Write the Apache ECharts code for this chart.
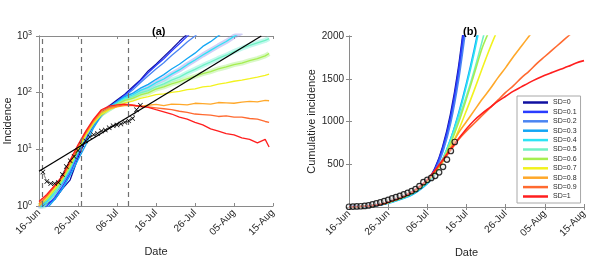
<!DOCTYPE html>
<html><head><meta charset="utf-8">
<script src="https://cdn.jsdelivr.net/npm/echarts@6/dist/echarts.min.js"></script>
<style>html,body{margin:0;padding:0;background:#fff}#c{width:598px;height:276px}</style>
</head><body><div id="c"></div>
<script>
// ---------- data ----------
const tickLabels = ['16-Jun','26-Jun','06-Jul','16-Jul','26-Jul','05-Aug','15-Aug'];
const sdNames = ['SD=0','SD=0.1','SD=0.2','SD=0.3','SD=0.4','SD=0.5','SD=0.6','SD=0.7','SD=0.8','SD=0.9','SD=1'];
const sdColors = ['#1010a0','#2a3cff','#4a84f2','#12a6f5','#2ce4f5','#70f2c4','#a6ee50','#f2f21e','#ffa82a','#ff6a30','#ff1e1e'];

// panel (a): simulated daily incidence (days since 16-Jun)
const daysA = [0,2,4,6,8,10,12,14,16,18,20,22,24,26,28,30,32,34,36,38,40,42,44,46,48,50,52,54,56,58,59];
const incSD0  = [0.9,1.1,1.3,2.0,2.9,7,15,27,44,58,74,94,126,168,242,318,432,586,805,1080,1450];
const incSD01 = [0.8,1.0,1.4,2.2,3.8,8,16,28,42,56,70,91,119,162,224,302,398,545,728,985,1310];
const incSD02 = [1.0,1.2,1.6,2.5,4.2,8.5,16,27,40,53,67,87,111,150,198,262,338,452,588,785,1000,1320];
const incSD03 = [0.7,0.9,1.3,2.0,3.5,6.5,12,24,40,55,69,85,97,120,140,172,208,262,318,402,498,655,795,1010,1250];
const incSD04 = [0.9,1.2,1.7,2.6,4.5,9,17,28,43,55,67,81,91,110,124,150,174,212,252,312,378,462,558,672,798,985,1160];
const incSD05 = [0.8,1.1,1.6,2.8,4.8,9.5,17,29,42,52,63,77,85,99,109,127,143,167,188,223,258,302,348,402,458,532,608,682,758,838,900];
const incSD06 = [1.0,1.3,1.9,2.9,5,10,18,29,42,51,62,73,79,91,99,116,127,143,157,176,194,216,236,262,284,312,333,367,398,446,490];
const incSD07 = [1.1,1.4,2.0,3.1,5.5,10,18,29,41,50,57,66,71,79,85,92,95,101,105,113,117,126,131,141,149,159,167,177,188,201,212];
const incSD08 = [1.0,1.5,2.2,3.3,6,11,19,31,45,52,56,59,60,57,60,62,59,63,62,61,65,64,63,67,66,65,68,70,69,73,72];
const incSD09 = [1.1,1.5,2.2,3.2,5.8,11,20,32,48,55,58,61,60,57,56,54,52,50,47,45,42,41,40,38,39,37,37,35,34,31,30];
const incSD1  = [1.2,1.6,2.3,3.4,6.5,12,21,34,50,58,61,63,60,58,55,50,46,42,37,34,30,27,23,21,19,18,16,15,13,15,11];
const incAll = [incSD0,incSD01,incSD02,incSD03,incSD04,incSD05,incSD06,incSD07,incSD08,incSD09,incSD1];

// exponential fit line and observed incidence
const fitDays = [0, 57];
const fitVals = [4.1, 1000];
const obsDaysA = [1,2,3,4,5,6,7,8,9,10,11,12,13,14,15,16,17,18,19,20,21,22,23,24,25,26];
const obsIncidence = [4.0,2.7,2.5,2.5,2.6,3.6,5.0,6.3,7.5,9.5,12,14,16.5,18,19,21,22,24,26,27,28,30,32,35,50,60];
const vlineDays = [0.75, 10.8, 22.9];

// panel (b): cumulative incidence
const daysB = [0,2,4,6,8,10,12,14,16,18,20,22,24,26,28,30,32,34,36,38,40,42,44,46,48,50,52,54,56,58,60];
const cumSD0  = [1,3,8,16,29,52,84,118,162,225,300,450,705,1085,1620,2350];
const cumSD01 = [1,3,8,16,30,54,86,120,164,226,298,440,685,1050,1580,2300];
const cumSD02 = [1,3,7,15,28,50,80,112,154,214,285,420,650,990,1490,2150];
const cumSD03 = [1,2,6,13,25,45,72,102,140,198,272,385,560,800,1100,1450,1850,2300];
const cumSD04 = [1,2,6,14,26,47,75,106,145,204,280,395,570,800,1080,1420,1810,2250];
const cumSD05 = [1,3,7,15,28,50,80,114,156,218,295,405,565,770,1030,1300,1600,1940,2300];
const cumSD06 = [1,3,7,16,29,52,83,117,160,222,300,410,555,750,990,1270,1560,1860,2080];
const cumSD07 = [1,3,8,16,30,53,85,120,164,226,302,400,530,700,900,1130,1370,1620,1860,2080];
const cumSD08 = [1,3,8,17,31,55,88,123,168,232,310,420,545,700,870,1000,1130,1260,1380,1510,1630,1760,1880,2000,2120];
const cumSD09 = [1,3,8,17,31,55,88,124,170,235,315,425,540,665,790,890,980,1070,1160,1250,1340,1420,1510,1590,1680,1760,1840,1920,2000,2080];
const cumSD1  = [1,3,8,17,31,56,89,125,172,238,318,432,555,680,800,915,1015,1095,1165,1235,1295,1355,1405,1455,1500,1540,1575,1610,1645,1685,1712];
const cumAll = [cumSD0,cumSD01,cumSD02,cumSD03,cumSD04,cumSD05,cumSD06,cumSD07,cumSD08,cumSD09,cumSD1];

const obsDaysB = [0,1,2,3,4,5,6,7,8,9,10,11,12,13,14,15,16,17,18,19,20,21,22,23,24,25,26,27];
const obsCum = [3,5,7,9,12,18,30,42,54,68,84,100,115,130,148,166,186,210,245,290,318,340,365,405,470,555,655,760];

// ---------- chart ----------
const FF = '"Liberation Sans", Arial, Helvetica, sans-serif';
const TXT = '#262626';
const AX = '#8a8a8a';
const pairs = (xs, ys) => ys.map((v, i) => [xs[i], v]);
const bandColors = {4: 'rgba(150,150,235,0.45)', 5: 'rgba(120,240,215,0.45)', 6: 'rgba(170,240,130,0.45)'};

function xAx(grid, pos, show) {
  return {
    type: 'value', gridIndex: grid, position: pos, min: 0, max: 60, interval: 10,
    axisLine: {show: true, lineStyle: {color: AX, width: 1}},
    axisTick: {show: true, inside: true, length: 3, lineStyle: {color: AX}},
    splitLine: {show: false},
    axisLabel: show ? {show: true, rotate: 45, margin: 5, fontSize: 10, color: TXT, fontFamily: FF,
      formatter: v => tickLabels[Math.round(v / 10)] || ''} : {show: false},
    name: show ? 'Date' : '', nameLocation: 'middle', nameGap: 40,
    nameTextStyle: {fontSize: 11, color: TXT, fontFamily: FF}
  };
}

const series = [];
// bands (a)
Object.keys(bandColors).forEach(k => {
  series.push({type: 'line', name: 'band' + k, xAxisIndex: 0, yAxisIndex: 0, data: pairs(daysA, incAll[k]),
    showSymbol: false, silent: true, clip: true, z: 1,
    lineStyle: {color: bandColors[k], width: 5}});
});
incAll.forEach((arr, i) => {
  series.push({type: 'line', name: 'a' + sdNames[i], xAxisIndex: 0, yAxisIndex: 0, data: pairs(daysA, arr),
    showSymbol: false, clip: true, z: 2, lineStyle: {color: sdColors[i], width: 1.3}, itemStyle: {color: sdColors[i]}});
});
// dashed verticals
series.push({type: 'line', name: 'vlines', xAxisIndex: 0, yAxisIndex: 0, data: [], silent: true,
  markLine: {silent: true, symbol: 'none', label: {show: false},
    lineStyle: {color: '#707070', type: [5, 4], width: 1.2},
    data: vlineDays.map(d => ({xAxis: d}))}});
// fit line
series.push({type: 'line', name: 'fit', xAxisIndex: 0, yAxisIndex: 0, data: pairs(fitDays, fitVals),
  showSymbol: false, clip: true, z: 5, lineStyle: {color: '#000', width: 1.3}});
// observed incidence
series.push({type: 'line', name: 'obsA', xAxisIndex: 0, yAxisIndex: 0, data: pairs(obsDaysA, obsIncidence),
  symbol: 'path://M0,1L1,0L5,4L9,0L10,1L6,5L10,9L9,10L5,6L1,10L0,9L4,5Z', symbolSize: 5, showSymbol: true, z: 6,
  itemStyle: {color: '#000'}, lineStyle: {color: '#000', width: 1, type: 'dotted'}});
// panel (b)
cumAll.forEach((arr, i) => {
  series.push({type: 'line', name: sdNames[i], xAxisIndex: 2, yAxisIndex: 2, data: pairs(daysB, arr),
    showSymbol: false, smooth: 0.3, clip: true, z: 2,
    lineStyle: {color: sdColors[i], width: i < 2 ? 2.2 : 1.6}, itemStyle: {color: sdColors[i]}});
});
series.push({type: 'scatter', name: 'obsB', xAxisIndex: 2, yAxisIndex: 2, data: pairs(obsDaysB, obsCum),
  symbol: 'circle', symbolSize: 5.5, z: 6,
  itemStyle: {color: 'rgba(230,230,230,0.6)', borderColor: '#000', borderWidth: 1.2}});

const option = {
  backgroundColor: '#fff',
  animation: false,
  textStyle: {fontFamily: FF},
  title: [
    {text: '(a)', left: 147, top: 21, textStyle: {fontSize: 11, fontWeight: 'bold', color: '#000', fontFamily: FF}},
    {text: '(b)', left: 458, top: 21, textStyle: {fontSize: 11, fontWeight: 'bold', color: '#000', fontFamily: FF}}
  ],
  grid: [
    {left: 39, top: 36, width: 234, height: 170},
    {left: 349, top: 36, width: 235, height: 171}
  ],
  legend: {
    orient: 'vertical', left: 517, top: 96, data: sdNames, icon: 'rect',
    itemWidth: 25, itemHeight: 2.5, itemGap: 2.4, padding: [3, 4, 3, 6],
    backgroundColor: '#fff', borderColor: '#a8a8a8', borderWidth: 1,
    textStyle: {fontSize: 7, color: TXT, fontFamily: FF}
  },
  xAxis: [xAx(0, 'bottom', true), xAx(0, 'top', false), xAx(1, 'bottom', true), xAx(1, 'top', false)],
  yAxis: [
    {type: 'log', logBase: 10, gridIndex: 0, position: 'left', min: 1, max: 1000,
     axisLine: {show: true, lineStyle: {color: AX}}, axisTick: {show: true, inside: true, length: 3, lineStyle: {color: AX}},
     minorTick: {show: false}, splitLine: {show: false},
     axisLabel: {margin: 7, color: TXT, fontFamily: FF,
       formatter: v => '{b|10}{s|' + Math.round(Math.log10(v)) + '}',
       rich: {b: {fontSize: 10, color: TXT, fontFamily: FF}, s: {fontSize: 7, color: TXT, fontFamily: FF, padding: [0, 0, 6, 0]}}},
     name: 'Incidence', nameLocation: 'middle', nameGap: 19, nameTextStyle: {fontSize: 11, color: TXT, fontFamily: FF}},
    {type: 'log', logBase: 10, gridIndex: 0, position: 'right', min: 1, max: 1000,
     axisLine: {show: true, lineStyle: {color: AX}}, axisTick: {show: true, inside: true, length: 3, lineStyle: {color: AX}},
     splitLine: {show: false}, axisLabel: {show: false}},
    {type: 'value', gridIndex: 1, position: 'left', min: 0, max: 2000, interval: 500,
     axisLine: {show: true, lineStyle: {color: AX}}, axisTick: {show: true, inside: true, length: 3, lineStyle: {color: AX}},
     splitLine: {show: false},
     axisLabel: {margin: 5, fontSize: 10, color: TXT, fontFamily: FF, formatter: v => v === 0 ? '' : String(v)},
     name: 'Cumulative incidence', nameLocation: 'middle', nameGap: 29, nameTextStyle: {fontSize: 11, color: TXT, fontFamily: FF}},
    {type: 'value', gridIndex: 1, position: 'right', min: 0, max: 2000, interval: 500,
     axisLine: {show: true, lineStyle: {color: AX}}, axisTick: {show: true, inside: true, length: 3, lineStyle: {color: AX}},
     splitLine: {show: false}, axisLabel: {show: false}}
  ],
  series: series
};
const chart = echarts.init(document.getElementById('c'), null, {renderer: 'canvas'});
chart.setOption(option);
</script>
</body></html>
